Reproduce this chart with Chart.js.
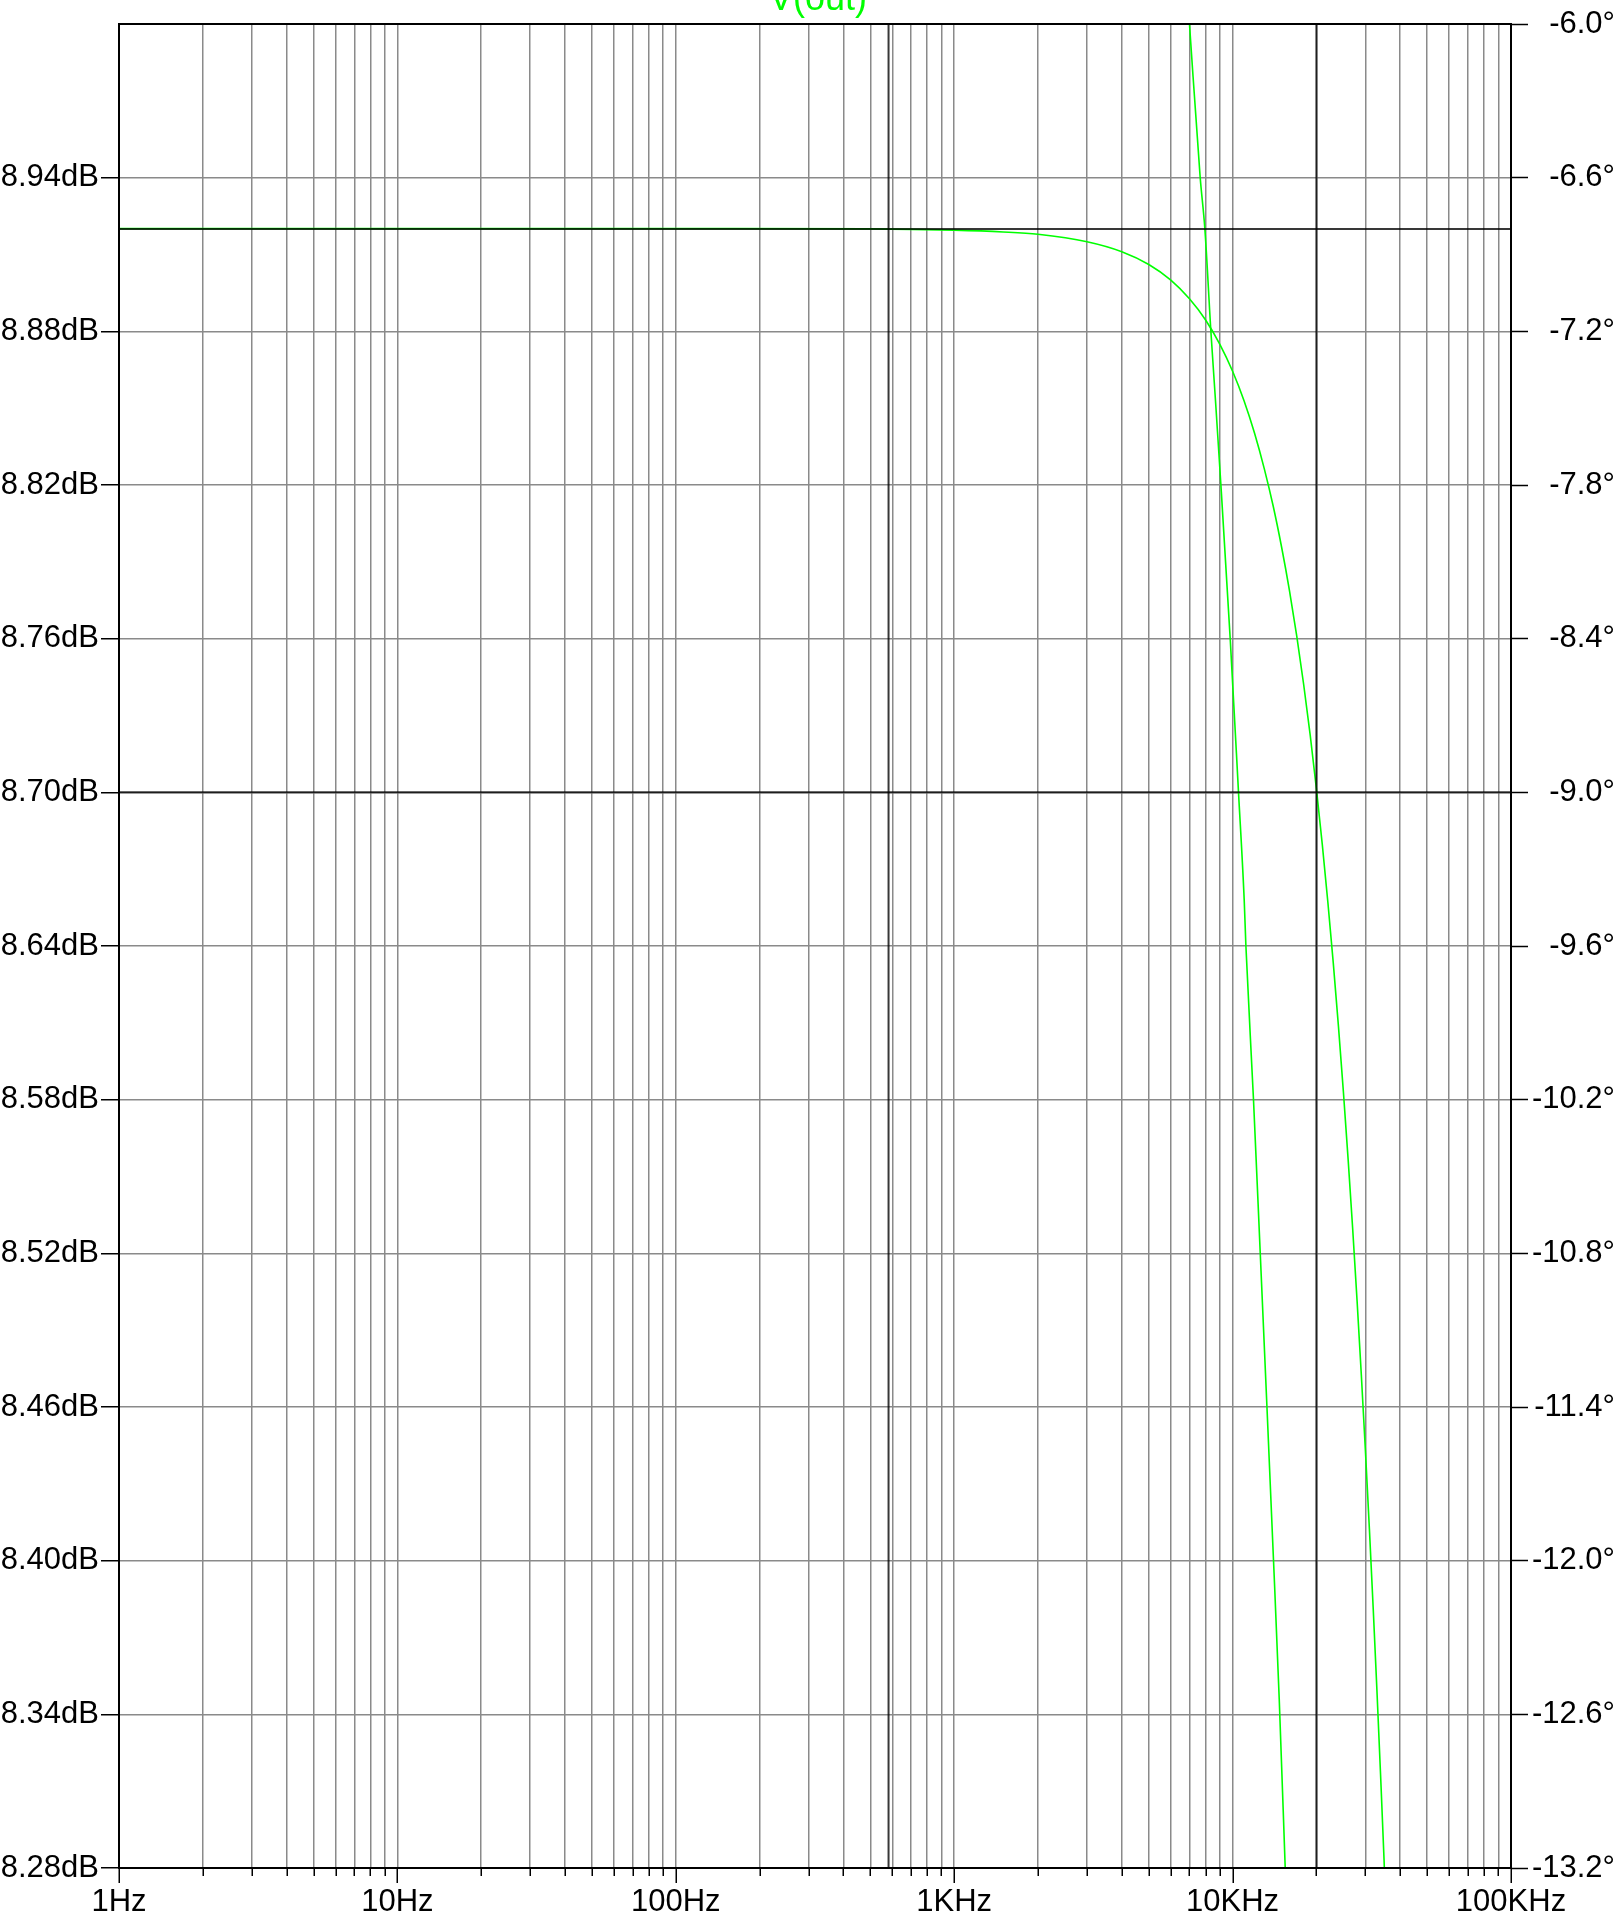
<!DOCTYPE html>
<html>
<head>
<meta charset="utf-8">
<script src="https://cdn.jsdelivr.net/npm/chart.js@4.4.1/dist/chart.umd.min.js"></script>
<style>
html,body{margin:0;padding:0;background:#fff;overflow:hidden}
canvas{display:block}
</style>
</head>
<body>
<canvas id="c" width="1623" height="1923"></canvas>
<script>
// ---- data (smoothed readings) ----
const titleText = 'V(out)';

const magFreqHz = [1, 10, 100, 500, 1000, 1500, 2000, 3000, 4000, 5000, 6000, 7000, 8000, 9000, 10000, 11000, 12000, 13000, 14000, 15000, 16000, 17000, 18000, 19000, 20000, 21000, 22000, 23000, 24000, 25000, 26000, 27000, 28000, 29000, 30000, 31000, 32000, 33000, 34000, 35000, 35200];
const magDb     = [8.9201, 8.9201, 8.9201, 8.9200, 8.9195, 8.9188, 8.9179, 8.9150, 8.9111, 8.9061, 8.9000, 8.8927, 8.8844, 8.8749, 8.8644, 8.8528, 8.8401, 8.8263, 8.8116, 8.7957, 8.7789, 8.7610, 8.7421, 8.7223, 8.7014, 8.6796, 8.6568, 8.6332, 8.6086, 8.5831, 8.5567, 8.5295, 8.5014, 8.4725, 8.4428, 8.4124, 8.3811, 8.3491, 8.3164, 8.2830, 8.2755];

const phaseFreqHz = [7000, 7649, 7951, 8356, 8680, 9078, 9804, 10501, 11007, 11163, 11887, 12569, 13286, 14029, 14706, 15453];
const phaseDeg    = [-6.0, -6.6, -6.80, -7.2, -7.47, -7.8, -8.4, -9.0, -9.42, -9.6, -10.2, -10.8, -11.4, -12.0, -12.54, -13.2];

const cursorFreqHz = [581, 20000];
const cursorDb     = [8.920, 8.700];

const freqDecades = [1, 10, 100, 1000, 10000, 100000];
const freqDecadeLabels = ['1Hz', '10Hz', '100Hz', '1KHz', '10KHz', '100KHz'];
const freqMultipliers = [1, 2, 3, 4, 5, 6, 7, 8, 9];

const dbMin = 8.28, dbMax = 9.00;
const dbTickValues = [8.28, 8.34, 8.40, 8.46, 8.52, 8.58, 8.64, 8.70, 8.76, 8.82, 8.88, 8.94];
const dbTickLabels = ['8.28dB', '8.34dB', '8.40dB', '8.46dB', '8.52dB', '8.58dB', '8.64dB', '8.70dB', '8.76dB', '8.82dB', '8.88dB', '8.94dB'];

const phaseMin = -13.2, phaseMax = -6.0;
const phaseTickValues = [-13.2, -12.6, -12.0, -11.4, -10.8, -10.2, -9.6, -9.0, -8.4, -7.8, -7.2, -6.6, -6.0];
const phaseTickLabels = ['-13.2°', '-12.6°', '-12.0°', '-11.4°', '-10.8°', '-10.2°', '-9.6°', '-9.0°', '-8.4°', '-7.8°', '-7.2°', '-6.6°', '-6.0°'];

// ---- derived structures ----
const freqTickValues = [];
freqDecades.forEach((d, i) => {
  if (i === freqDecades.length - 1) { freqTickValues.push(d); return; }
  freqMultipliers.forEach(m => freqTickValues.push(d * m));
});
const decadeLabelMap = new Map(freqDecades.map((d, i) => [d, freqDecadeLabels[i]]));

const FONT = '"Liberation Sans", Arial, sans-serif';
const FSIZE = 31;
const TRACE = '#00ff00';
const GRID = '#8a8a8a';
const CURSOR = 'rgba(0,0,0,0.78)';

const datasets = [];
cursorFreqHz.forEach(f => datasets.push({
  data: [{x: f, y: dbMin}, {x: f, y: dbMax}], yAxisID: 'y',
  borderColor: CURSOR, borderWidth: 2, pointRadius: 0, order: 0
}));
cursorDb.forEach(v => datasets.push({
  data: [{x: freqDecades[0], y: v}, {x: freqDecades[freqDecades.length - 1], y: v}], yAxisID: 'y',
  borderColor: CURSOR, borderWidth: 2, pointRadius: 0, order: 0
}));
datasets.push({
  label: 'mag', data: magFreqHz.map((f, i) => ({x: f, y: magDb[i]})), yAxisID: 'y',
  borderColor: TRACE, borderWidth: 1.6, pointRadius: 0, order: 1, cubicInterpolationMode: 'monotone'
});
datasets.push({
  label: 'phase', data: phaseFreqHz.map((f, i) => ({x: f, y: phaseDeg[i]})), yAxisID: 'y1',
  borderColor: TRACE, borderWidth: 1.6, pointRadius: 0, order: 1, cubicInterpolationMode: 'monotone'
});

const decor = {
  id: 'decor',
  afterDraw(chart) {
    const {ctx, chartArea: a} = chart;
    const x = chart.scales.x;
    ctx.save();
    ctx.strokeStyle = '#000';
    ctx.lineWidth = 1.5;
    freqTickValues.forEach(v => {
      const px = Math.round(x.getPixelForValue(v)) + 0.25;
      const len = decadeLabelMap.has(v) ? 15 : 8;
      ctx.beginPath();
      ctx.moveTo(px, a.bottom);
      ctx.lineTo(px, a.bottom + len);
      ctx.stroke();
    });
    ctx.lineWidth = 2;
    ctx.strokeRect(a.left, a.top, a.right - a.left, a.bottom - a.top);
    ctx.fillStyle = TRACE;
    ctx.font = '36px ' + FONT;
    ctx.textAlign = 'center';
    ctx.textBaseline = 'alphabetic';
    ctx.fillText(titleText, (a.left + a.right) / 2 + 3, 10);
    ctx.restore();
  }
};

const zeroPad = s => { s.paddingTop = 0; s.paddingBottom = 0; s.paddingLeft = 0; s.paddingRight = 0; };

new Chart(document.getElementById('c'), {
  type: 'line',
  data: {datasets},
  plugins: [decor],
  options: {
    responsive: false,
    animation: false,
    devicePixelRatio: 1,
    parsing: false,
    layout: {padding: {top: 24, left: 0, right: 8, bottom: 0}},
    plugins: {legend: {display: false}, tooltip: {enabled: false}, title: {display: false}},
    elements: {point: {radius: 0}, line: {tension: 0}},
    scales: {
      x: {
        type: 'logarithmic', position: 'bottom', min: 1, max: 100000,
        afterBuildTicks: s => { s.ticks = freqTickValues.map(v => ({value: v})); },
        afterFit: s => { s.height = 55; zeroPad(s); },
        ticks: {
          autoSkip: false, maxRotation: 0, minRotation: 0, padding: 16, color: '#000',
          font: {family: FONT, size: FSIZE},
          callback: (v) => decadeLabelMap.has(v) ? decadeLabelMap.get(v) : ''
        },
        grid: {color: GRID, lineWidth: 1.5, drawTicks: false},
        border: {display: false}
      },
      y: {
        type: 'linear', position: 'left', min: dbMin, max: dbMax,
        afterBuildTicks: s => { s.ticks = dbTickValues.map(v => ({value: v})); },
        afterFit: s => { s.width = 119; zeroPad(s); },
        ticks: {
          padding: 2, color: '#000', font: {family: FONT, size: FSIZE},
          callback: (v, i) => dbTickLabels[i]
        },
        grid: {color: GRID, lineWidth: 1.5, drawTicks: true, tickLength: 18, tickColor: '#000', tickWidth: 1.5},
        border: {display: false}
      },
      y1: {
        type: 'linear', position: 'right', min: phaseMin, max: phaseMax,
        afterBuildTicks: s => { s.ticks = phaseTickValues.map(v => ({value: v})); },
        afterFit: s => { s.width = 104; zeroPad(s); },
        ticks: {
          padding: 2, crossAlign: 'far', color: '#000', font: {family: FONT, size: FSIZE},
          callback: (v, i) => phaseTickLabels[i]
        },
        grid: {drawOnChartArea: false, drawTicks: true, tickLength: 17, tickColor: '#000', tickWidth: 1.5},
        border: {display: false}
      }
    }
  }
});
</script>
</body>
</html>
